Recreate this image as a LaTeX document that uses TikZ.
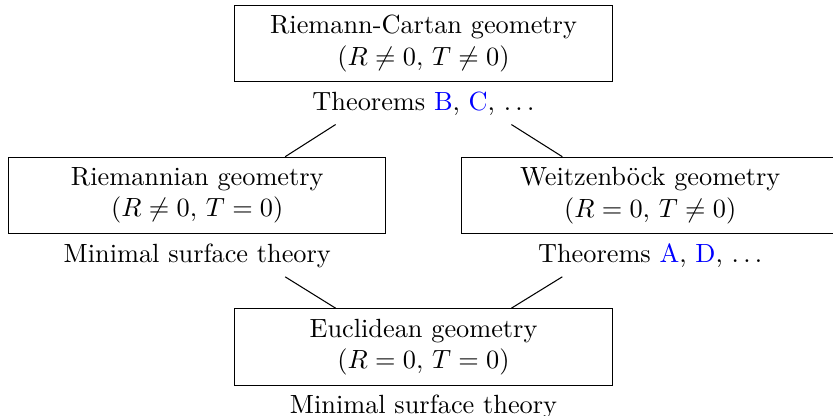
\documentclass[tikz,border=0pt]{standalone}
\begin{document}
\begin{tikzpicture}[x=0.38pt,y=-0.38pt,
  geobox/.style={draw, align=center, minimum width=143.3pt, minimum height=29.1pt, inner sep=3.33pt},
  geolab/.style={anchor=north, inner sep=3.33pt},
  link/.style={draw, line width=0.4pt}]
\useasboundingbox (0,0) rectangle (833,416);
\node[geobox] (top) at (423.5,43.5) {Riemann-Cartan geometry\\$(R\neq 0,\, T\neq 0)$};
\node[geobox] (left) at (197.3,195.5) {Riemannian geometry\\$(R\neq 0,\, T=0)$};
\node[geobox] (right) at (650.2,195.5) {Weitzenb\"ock geometry\\$(R=0,\, T\neq 0)$};
\node[geobox] (bot) at (423.5,347) {Euclidean geometry\\$(R=0,\, T=0)$};
\node[geolab] (toplab) at (top.south) {Theorems \textcolor{blue}{B}, \textcolor{blue}{C}, $\ldots$};
\node[geolab] (leftlab) at (left.south) {Minimal surface theory};
\node[geolab] (rightlab) at (right.south) {Theorems \textcolor{blue}{A}, \textcolor{blue}{D}, $\ldots$};
\node[geolab] (botlab) at (bot.south) {Minimal surface theory};
\path[link] ([xshift=-33.4pt]toplab.south) -- ([xshift=33.4pt]left.north);
\path[link] ([xshift=33.4pt]toplab.south) -- ([xshift=-33.4pt]right.north);
\path[link] ([xshift=33.4pt]leftlab.south) -- ([xshift=-33.4pt]bot.north);
\path[link] ([xshift=-33.4pt]rightlab.south) -- ([xshift=33.4pt]bot.north);
\end{tikzpicture}
\end{document}
